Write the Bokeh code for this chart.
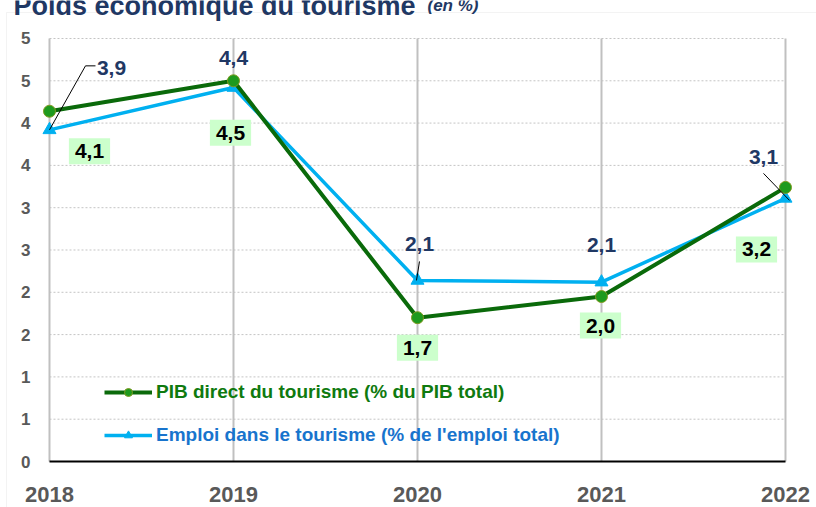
from bokeh.plotting import figure
from bokeh.models import Range1d, Label, Legend, LegendItem, BoxAnnotation
from bokeh.embed import file_html
from bokeh.resources import INLINE

# ---------------- data ----------------
years = [2018, 2019, 2020, 2021, 2022]
year_labels = ["2018", "2019", "2020", "2021", "2022"]
pib = [4.14, 4.50, 1.70, 1.95, 3.24]
emploi = [3.92, 4.42, 2.14, 2.12, 3.11]
pib_labels = ["4,1", "4,5", "1,7", "2,0", "3,2"]
emploi_labels = ["3,9", "4,4", "2,1", "2,1", "3,1"]
y_ticks = [0, 0.5, 1, 1.5, 2, 2.5, 3, 3.5, 4, 4.5, 5]
y_tick_labels = ["0", "1", "1", "2", "2", "3", "3", "4", "4", "5", "5"]
pib_name = "PIB direct du tourisme (% du PIB total)"
emploi_name = "Emploi dans le tourisme (% de l'emploi total)"
title_main = "Poids économique du tourisme"
title_unit = "(en %)"

# ---------------- styling ----------------
FONT = "Liberation Sans"
GREEN_LINE = "#0a6a0a"
GREEN_PT = "#1e9a1e"
GREEN_EDGE = "#7f9a20"
BLUE = "#00b0f0"
NAVY = "#1f3864"
GRAY_TXT = "#595959"

W, H = 816, 507
# frame covers the whole canvas; the plotting area spans 2018..2022 and 0..5
X0, X1 = 2017.7337, 2022.1685
Y0, Y1 = -0.5437, 5.449
PXX = W / (X1 - X0)
PXY = H / (Y1 - Y0)

p = figure(width=W, height=H, x_range=Range1d(X0, X1), y_range=Range1d(Y0, Y1),
           output_backend="svg", toolbar_location=None,
           min_border_left=0, min_border_right=0, min_border_top=0, min_border_bottom=0)
p.outline_line_color = None
p.background_fill_color = "white"
p.border_fill_color = "white"
p.xgrid.visible = False
p.ygrid.visible = False
p.axis.visible = False

# chart border (light gray)
p.add_layout(BoxAnnotation(left=6, right=W + 20, bottom=-20, top=H - 12,
                           left_units="screen", right_units="screen",
                           bottom_units="screen", top_units="screen",
                           fill_alpha=0, line_color="#d6d6d6", line_width=1))

# grid lines
n = len(y_ticks) - 1
p.segment(x0=[years[0]] * n, x1=[years[-1]] * n, y0=y_ticks[1:], y1=y_ticks[1:],
          line_color="#c4c4c4", line_width=1, line_dash="2 2")
p.segment(x0=years, x1=years, y0=[y_ticks[0]] * len(years), y1=[y_ticks[-1]] * len(years),
          line_color="#c0c0c0", line_width=2)
p.segment(x0=[years[0]], x1=[years[-1]], y0=[y_ticks[0]], y1=[y_ticks[0]],
          line_color="black", line_width=2)

# tick labels
for t, l in zip(y_ticks, y_tick_labels):
    p.add_layout(Label(x=years[0], y=t, text=l, x_offset=-19, text_align="right",
                       text_baseline="middle", text_font=FONT, text_font_size="17px",
                       text_font_style="bold", text_color=GRAY_TXT))
for yr, l in zip(years, year_labels):
    p.add_layout(Label(x=yr, y=y_ticks[0], text=l, y_offset=-33, text_align="center",
                       text_baseline="middle", text_font=FONT, text_font_size="22px",
                       text_font_style="bold", text_color=GRAY_TXT))

# series
bl = p.line(years, emploi, line_color=BLUE, line_width=3.5)
bp = p.scatter(years, emploi, marker="triangle", size=13, fill_color=BLUE, line_color=BLUE)
gl = p.line(years, pib, line_color=GREEN_LINE, line_width=4)
gp = p.scatter(years, pib, marker="circle", size=12, fill_color=GREEN_PT,
               line_color=GREEN_EDGE, line_width=1)

# leader lines (pixel offsets from the blue points)
leaders = {0: [(0, 0), (36, 64), (46, 64)], 2: [(-1, 0), (2, 19)], 4: [(-22, 25), (4, -2)]}
xs, ys = [], []
for i, pts in leaders.items():
    xs.append([years[i] + dx / PXX for dx, dy in pts])
    ys.append([emploi[i] + dy / PXY for dx, dy in pts])
p.multi_line(xs, ys, line_color="black", line_width=1)

# value labels
g_off = [(40, -40), (-3, -52), (0, -30), (-1, -29), (-29, -62)]
b_off = [(62, 62), (0, 30), (2, 36), (0, 37), (-22, 41)]
for yr, v, t, (dx, dy) in zip(years, pib, pib_labels, g_off):
    p.add_layout(Label(x=yr, y=v, text=t, x_offset=dx, y_offset=dy, text_align="center",
                       text_baseline="middle", text_font=FONT, text_font_size="21px",
                       text_font_style="bold", text_color="black",
                       background_fill_color="#ccffcc", padding=6))
for yr, v, t, (dx, dy) in zip(years, emploi, emploi_labels, b_off):
    p.add_layout(Label(x=yr, y=v, text=t, x_offset=dx, y_offset=dy, text_align="center",
                       text_baseline="middle", text_font=FONT, text_font_size="21px",
                       text_font_style="bold", text_color=NAVY))

# legends
def make_legend(label, rends, loc, color):
    lg = Legend(items=[LegendItem(label=label, renderers=rends)], location=loc,
                padding=0, margin=0, spacing=0, glyph_width=48, glyph_height=20,
                label_height=20, label_standoff=4, border_line_color=None,
                background_fill_alpha=0)
    lg.label_text_font = FONT
    lg.label_text_font_size = "19px"
    lg.label_text_font_style = "bold"
    lg.label_text_color = color
    return lg

p.add_layout(make_legend(pib_name, [gl, gp], (104, 104), "#0f7a0f"))
p.add_layout(make_legend(emploi_name, [bl, bp], (104, 61), "#1874cd"))

# title (cut at the top as in the reference)
p.add_layout(Label(x=13, y=H - 5, x_units="screen", y_units="screen", text=title_main,
                   text_font=FONT, text_font_size="27px", text_font_style="bold",
                   text_color=NAVY, text_baseline="alphabetic"))
p.add_layout(Label(x=427, y=H - 5, x_units="screen", y_units="screen", text=title_unit,
                   text_font=FONT, text_font_size="17px", text_font_style="bold italic",
                   text_color=NAVY, text_baseline="alphabetic"))

open("out.html", "w").write(file_html(p, INLINE))
